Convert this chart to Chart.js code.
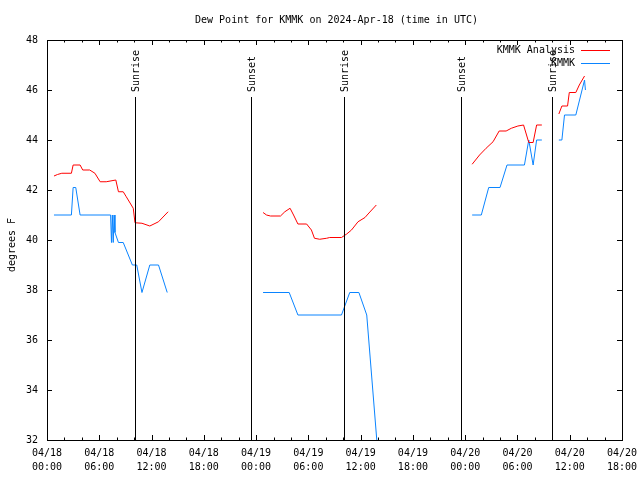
<!DOCTYPE html>
<html>
<head>
<meta charset="utf-8">
<title>Dew Point for KMMK</title>
<script src="https://cdn.jsdelivr.net/npm/chart.js@4.4.1/dist/chart.umd.min.js"></script>
<style>
    html, body { margin: 0; padding: 0; background: #fff; }
    canvas { display: block; }
</style>
</head>
<body>
<canvas id="dewPointChart" width="640" height="480"></canvas>
<script>
/* Dew point chart - hours are counted from 2024-04-18 00:00 UTC.
   A null value breaks the line. */

const analysisHours = [
    0.8, 1.2, 1.7, 2.8, 3.0, 3.8, 4.1, 4.9, 5.5, 6.1, 6.8, 7.9, 8.2, 8.75, 9.1, 9.9, 10.1, 10.9, 11.8, 12.8, 13.9,
    19.0,
    24.8, 25.2, 25.65, 26.8, 27.3, 27.9, 28.3, 28.8, 29.8, 30.35, 30.7, 31.3, 32.1, 32.45, 33.8, 34.4, 34.95, 35.7, 36.5, 36.85, 37.8,
    43.0,
    48.8, 49.65, 50.4, 51.2, 51.9, 52.7, 53.3, 54.05, 54.7, 55.3, 55.8, 56.2, 56.8,
    57.8,
    58.75, 59.1, 59.75, 59.95, 60.7, 61.1, 61.7
];
const analysisDew = [
    42.56, 42.62, 42.67, 42.67, 43.0, 43.0, 42.8, 42.8, 42.67, 42.33, 42.33, 42.4, 41.93, 41.93, 41.73, 41.27, 40.69, 40.67, 40.56, 40.73, 41.13,
    null,
    41.1, 41.0, 40.96, 40.96, 41.13, 41.27, 41.0, 40.64, 40.64, 40.4, 40.07, 40.03, 40.07, 40.1, 40.1, 40.24, 40.4, 40.73, 40.9, 41.04, 41.4,
    null,
    43.03, 43.4, 43.67, 43.93, 44.36, 44.36, 44.47, 44.56, 44.6, 43.9, 43.9, 44.6, 44.6,
    null,
    45.04, 45.36, 45.36, 45.9, 45.9, 46.2, 46.56
];

const obsHours = [
    0.8, 2.8, 3.0, 3.3, 3.8, 7.3, 7.4, 7.5, 7.6, 7.7, 7.8, 8.2, 8.75, 9.8, 10.3, 10.9, 11.8, 12.8, 13.8,
    19.0,
    24.8, 27.8, 28.8, 33.8, 34.75, 35.8, 36.7, 37.9,
    43.0,
    48.8, 49.85, 50.7, 52.0, 52.8, 54.8, 55.3, 55.8, 56.2, 56.8,
    57.8,
    58.75, 59.1, 59.4, 60.7, 61.7, 61.8
];
const obsDew = [
    41.0, 41.0, 42.1, 42.1, 41.0, 41.0, 39.9, 41.0, 39.9, 41.0, 40.3, 39.9, 39.9, 39.0, 39.0, 37.9, 39.0, 39.0, 37.9,
    null,
    37.9, 37.9, 37.0, 37.0, 37.9, 37.9, 37.0, 31.8,
    null,
    41.0, 41.0, 42.1, 42.1, 43.0, 43.0, 44.0, 43.0, 44.0, 44.0,
    null,
    44.0, 44.0, 45.0, 45.0, 46.4, 46.0
];

const eventHours = [10.1, 23.45, 34.1, 47.5, 58.0];
const eventNames = ['Sunrise', 'Sunset', 'Sunrise', 'Sunset', 'Sunrise'];

const xTickHours = [0, 6, 12, 18, 24, 30, 36, 42, 48, 54, 60, 66];
const xTickDates = ['04/18', '04/18', '04/18', '04/18', '04/19', '04/19', '04/19', '04/19', '04/20', '04/20', '04/20', '04/20'];
const xTickTimes = ['00:00', '06:00', '12:00', '18:00', '00:00', '06:00', '12:00', '18:00', '00:00', '06:00', '12:00', '18:00'];
const yTicks = [32, 34, 36, 38, 40, 42, 44, 46, 48];

const TITLE = 'Dew Point for KMMK on 2024-Apr-18 (time in UTC)';
const Y_TITLE = 'degrees F';
const FONT = '10px "DejaVu Sans Mono", "Liberation Mono", monospace';

function toPoints(hours, values) {
    return hours.map(function(h, i) {
        return { x: h, y: values[i] };
    });
}

// gnuplot style frame, ticks, labels, legend and sun events
const gnuplotLook = {
    id: 'gnuplotLook',
    afterDatasetsDraw: function(chart) {
        const ctx = chart.ctx;
        const area = chart.chartArea;
        const xs = chart.scales.x;
        const ys = chart.scales.y;

        ctx.save();
        ctx.strokeStyle = '#000';
        ctx.fillStyle = '#000';
        ctx.lineWidth = 1;
        ctx.font = FONT;

        // sunrise / sunset lines
        eventHours.forEach(function(h, i) {
            const x = Math.round(xs.getPixelForValue(h)) + 0.5;
            ctx.beginPath();
            ctx.moveTo(x, 97);
            ctx.lineTo(x, area.bottom);
            ctx.stroke();

            ctx.save();
            ctx.translate(x + 1, 92);
            ctx.rotate(-Math.PI / 2);
            ctx.textAlign = 'left';
            ctx.textBaseline = 'middle';
            ctx.fillText(eventNames[i], 0, 0);
            ctx.restore();
        });

        // frame
        ctx.strokeRect(Math.round(area.left) + 0.5, Math.round(area.top) + 0.5,
            Math.round(area.right - area.left), Math.round(area.bottom - area.top));

        // x ticks, every 2 hours, major every 6
        for (let h = xs.min; h <= xs.max; h += 2) {
            const x = Math.round(xs.getPixelForValue(h)) + 0.5;
            const len = (h % 6 === 0) ? 5 : 2.5;
            ctx.beginPath();
            ctx.moveTo(x, area.bottom);
            ctx.lineTo(x, area.bottom - len);
            ctx.moveTo(x, area.top);
            ctx.lineTo(x, area.top + len);
            ctx.stroke();
        }

        ctx.textAlign = 'center';
        ctx.textBaseline = 'middle';
        xTickHours.forEach(function(h, i) {
            const x = xs.getPixelForValue(h);
            ctx.fillText(xTickDates[i], x, area.bottom + 13);
            ctx.fillText(xTickTimes[i], x, area.bottom + 27);
        });

        // y ticks
        ctx.textAlign = 'right';
        yTicks.forEach(function(v) {
            const y = Math.round(ys.getPixelForValue(v)) + 0.5;
            ctx.beginPath();
            ctx.moveTo(area.left, y);
            ctx.lineTo(area.left + 5, y);
            ctx.moveTo(area.right, y);
            ctx.lineTo(area.right - 5, y);
            ctx.stroke();
            ctx.fillText(String(v), area.left - 9, y);
        });

        // title and axis title
        ctx.textAlign = 'center';
        ctx.fillText(TITLE, (area.left + area.right) / 2 + 2, 20);

        ctx.save();
        ctx.translate(12, 245);
        ctx.rotate(-Math.PI / 2);
        ctx.fillText(Y_TITLE, 0, 0);
        ctx.restore();

        // legend, top right inside the frame
        chart.data.datasets.forEach(function(ds, i) {
            const y = 50 + i * 13 + 0.5;
            ctx.textAlign = 'right';
            ctx.fillStyle = '#000';
            ctx.fillText(ds.label, 575, y);
            ctx.strokeStyle = ds.borderColor;
            ctx.beginPath();
            ctx.moveTo(581, y);
            ctx.lineTo(610, y);
            ctx.stroke();
        });

        ctx.restore();
    }
};

const ctx = document.getElementById('dewPointChart').getContext('2d');

new Chart(ctx, {
    type: 'line',
    data: {
        datasets: [{
            label: 'KMMK Analysis',
            data: toPoints(analysisHours, analysisDew),
            borderColor: '#ff0000',
            borderWidth: 1,
            pointRadius: 0,
            tension: 0,
            spanGaps: false
        }, {
            label: 'KMMK',
            data: toPoints(obsHours, obsDew),
            borderColor: '#0a84ff',
            borderWidth: 1,
            pointRadius: 0,
            tension: 0,
            spanGaps: false
        }]
    },
    options: {
        responsive: false,
        animation: false,
        layout: {
            padding: { left: 47, right: 18, top: 40, bottom: 40 }
        },
        plugins: {
            legend: { display: false },
            title: { display: false },
            tooltip: { enabled: false }
        },
        scales: {
            x: {
                type: 'linear',
                min: 0,
                max: 66,
                grid: { display: false },
                border: { display: false },
                ticks: { display: false },
                afterFit: function(scale) { scale.height = 0; }
            },
            y: {
                min: 32,
                max: 48,
                grid: { display: false },
                border: { display: false },
                ticks: { display: false },
                afterFit: function(scale) { scale.width = 0; }
            }
        }
    },
    plugins: [gnuplotLook]
});
</script>
</body>
</html>
